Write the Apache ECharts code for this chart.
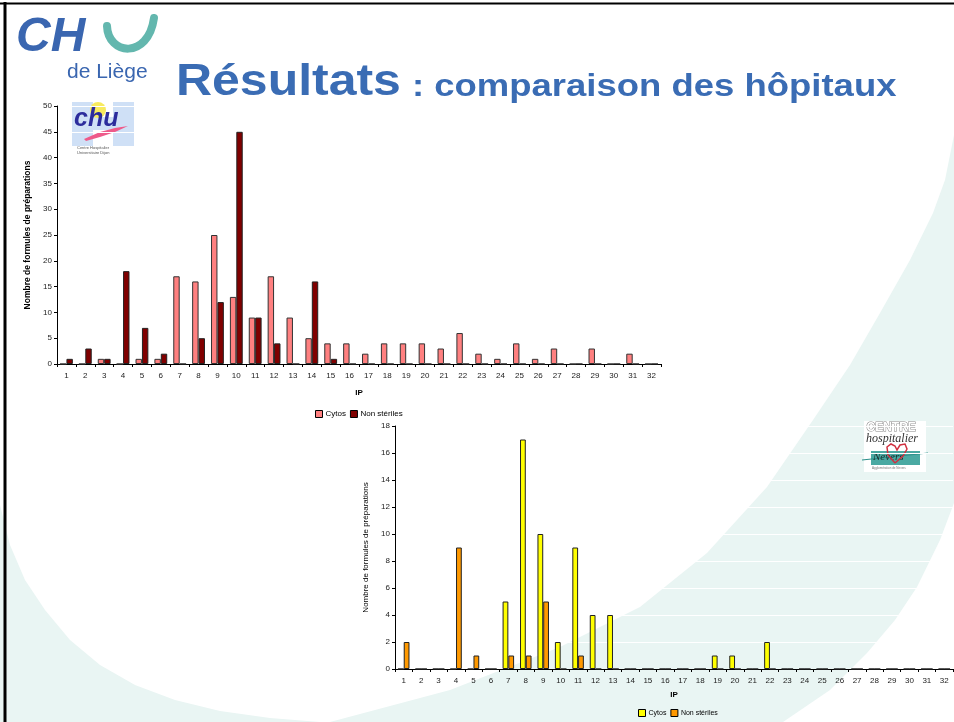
<!DOCTYPE html>
<html>
<head>
<meta charset="utf-8">
<script src="https://cdn.jsdelivr.net/npm/echarts@6/dist/echarts.min.js"></script>
<style>
html,body{margin:0;padding:0;background:#fff;}
#chart{width:954px;height:722px;}
</style>
</head>
<body>
<div id="chart"></div>
<script>
// ---- Data ----
const categories = ['1','2','3','4','5','6','7','8','9','10','11','12','13','14','15','16','17','18','19','20','21','22','23','24','25','26','27','28','29','30','31','32'];
const seriesNames = ['Cytos', 'Non stériles'];
// Top chart: CHU Dijon
const dijonCytos =       [0,0,1,0,1,1,17,16,25,13,9,17,9,5,4,4,2,4,4,4,3,6,2,1,4,1,3,0,3,0,2,0];
const dijonNonSteriles = [1,3,1,18,7,2,0,5,12,45,9,4,0,16,1,0,0,0,0,0,0,0,0,0,0,0,0,0,0,0,0,0];
// Bottom chart: CH Nevers
const neversCytos =       [0,0,0,0,0,0,5,17,10,2,9,4,4,0,0,0,0,0,1,1,0,2,0,0,0,0,0,0,0,0,0,0];
const neversNonSteriles = [2,0,0,9,1,0,1,1,5,0,1,0,0,0,0,0,0,0,0,0,0,0,0,0,0,0,0,0,0,0,0,0];
const yTicksTop = {min:0, max:50, interval:5};
const yTicksBottom = {min:0, max:18, interval:2};
const titleMain = 'Résultats';
const titleSub = ': comparaison des hôpitaux';
const xAxisName = 'IP';
const yAxisName = 'Nombre de formules de préparations';

const FONT = "'Liberation Sans', Arial, sans-serif";
const chart = echarts.init(document.getElementById('chart'));

function xAxisCfg(gridIndex, gap){
  return {
    type:'category', gridIndex, data:categories,
    axisLine:{lineStyle:{color:'#000',width:1}},
    axisTick:{show:true,length:3,lineStyle:{color:'#000'}},
    axisLabel:{color:'#222',fontSize:8,fontFamily:FONT,margin:8,interval:0},
    name:xAxisName, nameLocation:'middle', nameGap:gap,
    nameTextStyle:{color:'#000',fontSize:8,fontWeight:'bold',fontFamily:FONT}
  };
}
function yAxisCfg(gridIndex, t, bold, gap, fs){
  return {
    type:'value', gridIndex, min:t.min, max:t.max, interval:t.interval,
    axisLine:{show:true,lineStyle:{color:'#000',width:1}},
    axisTick:{show:true,length:3,lineStyle:{color:'#000'}},
    axisLabel:{color:'#222',fontSize:8,fontFamily:FONT,margin:5},
    splitLine:{show:true,lineStyle:{color:'#ffffff',width:1}},
    name:yAxisName, nameLocation:'middle', nameGap:gap, nameRotate:90,
    nameTextStyle:{color:'#000',fontSize:fs,fontWeight:bold?'bold':'normal',fontFamily:FONT}
  };
}

const teal = '#e9f5f3';
const option = {
  backgroundColor:'#ffffff',
  animation:false,
  graphic:[
    // slide background swooshes
    {type:'polygon', z:-10, silent:true, shape:{points:[[0,505],[10,545],[25,580],[45,610],[70,640],[100,665],[135,685],[175,700],[220,711],[270,718],[320,722],[0,722]]}, style:{fill:teal}},
    {type:'polygon', z:-10, silent:true, shape:{points:[[330,722],[450,690],[560,647],[640,607],[707,553],[767,487],[813,420],[850,365],[880,313],[910,260],[933,213],[945,180],[954,135],[954,503],[940,540],[917,587],[895,620],[867,653],[830,690],[783,722]]}, style:{fill:teal}},
    // slide border
    {type:'line', z:-5, shape:{x1:0,y1:3.5,x2:954,y2:3.5}, style:{stroke:'#000',lineWidth:2}},
    {type:'line', z:-5, shape:{x1:5,y1:2,x2:5,y2:722}, style:{stroke:'#000',lineWidth:3}},
    // CHU de Liège logo
    {type:'text', left:16, top:14, style:{text:'CH', fill:'#3a66b0', font:"italic bold 48px "+FONT}},
    {type:'bezierCurve', shape:{x1:107,y1:26,cpx1:108,cpy1:55,cpx2:148,cpy2:60,x2:154,y2:18}, style:{stroke:'#63b7ae',lineWidth:8,fill:null,lineCap:'round'}},
    {type:'text', left:67, top:62, style:{text:'de Liège', fill:'#3a66b0', font:"21px "+FONT}},
    // Title
    {type:'text', x:176, y:105, scaleX:1.11, style:{text:titleMain, fill:'#3a6cb4', font:"bold 45px "+FONT, textVerticalAlign:'bottom'}},
    {type:'text', x:412, y:103, scaleX:1.14, style:{text:titleSub, fill:'#3a6cb4', font:"bold 32px "+FONT, textVerticalAlign:'bottom'}},
    // Dijon logo
    {type:'rect', shape:{x:72,y:102,width:21,height:44}, style:{fill:'#cfe0f6'}},
    {type:'rect', shape:{x:113,y:102,width:21,height:44}, style:{fill:'#cfe0f6'}},
    {type:'rect', shape:{x:90,y:117,width:26,height:13}, style:{fill:'#cfe0f6'}},
    {type:'circle', shape:{cx:98,cy:110,r:8}, style:{fill:'#f7ea5e'}},
    {type:'polygon', shape:{points:[[84,139],[100,132],[115,128],[128,126],[115,132],[100,137],[86,141]]}, style:{fill:'#ee5a8a'}},
    {type:'text', left:74, top:107, style:{text:'chu', fill:'#2c2c9c', font:"italic bold 25px "+FONT}},
    {type:'text', left:77, top:145, style:{text:'Centre Hospitalier\nUniversitaire Dijon', fill:'#555', font:"4px "+FONT, lineHeight:5}},
    // Nevers logo
    {type:'rect', shape:{x:864,y:421,width:62,height:51}, style:{fill:'#ffffff'}},
    {type:'text', left:866, top:421, style:{text:'CENTRE', fill:'#fff', stroke:'#888', lineWidth:1, font:"bold 12px "+FONT}},
    {type:'text', left:866, top:433, style:{text:'hospitalier', fill:'#333', font:"italic 12px 'Liberation Serif', serif"}},
    {type:'rect', shape:{x:871,y:451,width:49,height:14}, style:{fill:'#4aa9a2'}},
    {type:'line', shape:{x1:862,y1:460,x2:928,y2:453}, style:{stroke:'#2b8f8a',lineWidth:1}},
    {type:'text', left:873, top:452, style:{text:'Nevers', fill:'#1b2b2b', font:"italic 11px 'Liberation Serif', serif"}},
    {type:'polyline', shape:{points:[[895,463],[888,455],[887,447],[891,444],[895,446],[897,450],[900,445],[905,444],[907,449],[903,456],[895,463]]}, style:{fill:null,stroke:'#d03040',lineWidth:1.5}},
    {type:'text', left:872, top:467, style:{text:'Agglomération de Nevers', fill:'#777', font:"3px "+FONT}}
  ],
  legend:[
    {left:310, top:405, itemWidth:7, itemHeight:7, itemGap:4, selectedMode:false, icon:'rect',
     textStyle:{fontSize:8,color:'#000',fontFamily:FONT,padding:[0,0,0,-2]},
     data:[
       {name:seriesNames[0], itemStyle:{color:'#ff8080',borderColor:'#000',borderWidth:1}},
       {name:seriesNames[1], itemStyle:{color:'#800000',borderColor:'#000',borderWidth:1}}
     ]},
    {left:633, top:704, itemWidth:7, itemHeight:7, itemGap:4, selectedMode:false, icon:'rect',
     textStyle:{fontSize:7,color:'#000',fontFamily:FONT,padding:[0,0,0,-2]},
     formatter:function(n){return n.trim();},
     data:[
       {name:seriesNames[0]+' ', itemStyle:{color:'#ffff00',borderColor:'#000',borderWidth:1}},
       {name:seriesNames[1]+' ', itemStyle:{color:'#ff9900',borderColor:'#000',borderWidth:1}}
     ]}
  ],
  grid:[
    {left:57, right:293, top:106, bottom:358, containLabel:false},
    {left:395, right:1, top:426, bottom:53, containLabel:false}
  ],
  xAxis:[xAxisCfg(0, 25), xAxisCfg(1, 22)],
  yAxis:[yAxisCfg(0, yTicksTop, true, 14, 8.5), yAxisCfg(1, yTicksBottom, false, 18, 8)],
  series:[
    {name:seriesNames[0], type:'bar', xAxisIndex:0, yAxisIndex:0, data:dijonCytos, barWidth:'34%', barGap:'0%',
     itemStyle:{color:'#ff8080', borderColor:'#333', borderWidth:1}},
    {name:seriesNames[1], type:'bar', xAxisIndex:0, yAxisIndex:0, data:dijonNonSteriles, barWidth:'34%', barGap:'0%',
     itemStyle:{color:'#800000', borderColor:'#222', borderWidth:1}},
    {name:seriesNames[0]+' ', type:'bar', xAxisIndex:1, yAxisIndex:1, data:neversCytos, barWidth:'33%', barGap:'0%',
     itemStyle:{color:'#ffff00', borderColor:'#222', borderWidth:1}},
    {name:seriesNames[1]+' ', type:'bar', xAxisIndex:1, yAxisIndex:1, data:neversNonSteriles, barWidth:'33%', barGap:'0%',
     itemStyle:{color:'#ff9900', borderColor:'#222', borderWidth:1}}
  ]
};
chart.setOption(option);
</script>
</body>
</html>
